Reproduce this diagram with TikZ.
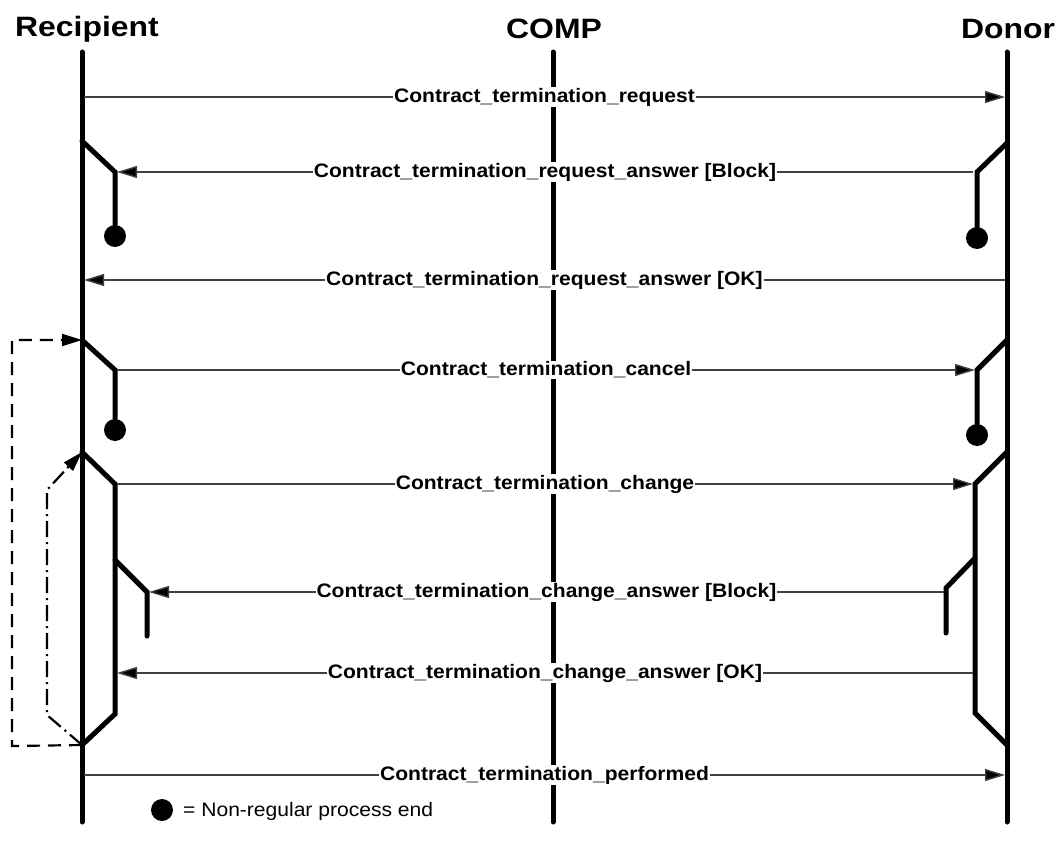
\documentclass[tikz,border=0pt]{standalone}
\usepackage{fontspec}
\setmainfont{Liberation Sans}
\newfontfamily\headfont[FakeStretch=1.14]{Liberation Sans}
\newfontfamily\msgfont[FakeStretch=1.08]{Liberation Sans}
\newfontfamily\legendfont[FakeStretch=1.08]{Liberation Sans}
\usetikzlibrary{arrows.meta}

\tikzset{
  head/.style={font=\headfont\bfseries\fontsize{28}{30}\selectfont, inner sep=0pt},
  life/.style={line width=5pt, line cap=round},
  branch/.style={line width=5pt, line cap=round},
  msg/.style={line width=1.4pt, draw=black!75, -{Triangle[length=20pt,width=12pt,fill=black]}},
  lbl/.style={fill=white, inner sep=1pt, text=black, font=\msgfont\bfseries\fontsize{19.5}{22}\selectfont},
  stopdot/.style={circle, fill=black, minimum size=22pt, inner sep=0pt},
  loopback/.style={line width=2.2pt, dash pattern=on 13pt off 8pt, -{Triangle[length=20pt,width=12pt]}},
  redo/.style={line width=2.2pt, dash pattern=on 16pt off 5pt on 2pt off 5pt, -{Triangle[length=20pt,width=12pt]}}
}

\begin{document}
\begin{tikzpicture}[x=1pt,y=-1pt]
        \useasboundingbox (0,0) rectangle (1059,850);

        \node[head] (recipient) at(87,29){Recipient};
        \node[head] (comp) at(554,29){COMP};
        \node[head] (donor) at(1008,29){Donor};

        \coordinate (recipient-top) at(82,52);
        \coordinate (recipient-bottom) at(82,822);
        \coordinate (comp-top) at(553,52);
        \coordinate (comp-bottom) at(553,822);
        \coordinate (donor-top) at(1007,52);
        \coordinate (donor-bottom) at(1007,822);

        \draw[life] (recipient-top) -- (recipient-bottom);
        \draw[life] (comp-top) -- (comp-bottom);
        \draw[life] (donor-top) -- (donor-bottom);

        % request blocked
        \coordinate (rb-fork) at(82,141);
        \coordinate (rb-knee) at(115,172);
        \node[stopdot] (rb-stop) at(115,236){};
        \coordinate (db-fork) at(1007,143);
        \coordinate (db-knee) at(977,172);
        \node[stopdot] (db-stop) at(977,238){};
        \draw[branch] (rb-fork) -- (rb-knee) -- (rb-stop);
        \draw[branch] (db-fork) -- (db-knee) -- (db-stop);

        % cancel
        \coordinate (rc-fork) at(82,340);
        \coordinate (rc-knee) at(115,370);
        \node[stopdot] (rc-stop) at(115,430){};
        \coordinate (dc-fork) at(1007,340);
        \coordinate (dc-knee) at(977,370);
        \node[stopdot] (dc-stop) at(977,435){};
        \draw[branch] (rc-fork) -- (rc-knee) -- (rc-stop);
        \draw[branch] (dc-fork) -- (dc-knee) -- (dc-stop);

        % change
        \coordinate (rch-fork) at(82,452);
        \coordinate (rch-knee) at(115,484);
        \coordinate (rch-low) at(115,714);
        \coordinate (rch-join) at(82,745);
        \coordinate (dch-fork) at(1007,452);
        \coordinate (dch-knee) at(975,484);
        \coordinate (dch-low) at(975,713);
        \coordinate (dch-join) at(1007,745);
        \draw[branch] (rch-fork) -- (rch-knee) -- (rch-low) -- (rch-join);
        \draw[branch] (dch-fork) -- (dch-knee) -- (dch-low) -- (dch-join);

        % change blocked
        \coordinate (rcb-fork) at(115,560);
        \coordinate (rcb-knee) at(147,592);
        \coordinate (rcb-end) at(147,636);
        \coordinate (dcb-fork) at(975,558);
        \coordinate (dcb-knee) at(946,588);
        \coordinate (dcb-end) at(946,633);
        \draw[branch] (rcb-fork) -- (rcb-knee) -- (rcb-end);
        \draw[branch] (dcb-fork) -- (dcb-knee) -- (dcb-end);

        % loops
        \coordinate (loop-low) at(12,746);
        \coordinate (loop-high) at(12,340);
        \draw[loopback] (rch-join) -- (loop-low) -- (loop-high) -- (rc-fork);
        \coordinate (redo-low) at(47,715);
        \coordinate (redo-high) at(47,490);
        \draw[redo] (rch-join) -- (redo-low) -- (redo-high) -- (rch-fork);

        % messages
        \coordinate (m1-from) at(84,97);
        \coordinate (m1-to) at(1005,97);
        \coordinate (m2-from) at(973,172);
        \coordinate (m2-to) at(117,172);
        \coordinate (m3-from) at(1005,280);
        \coordinate (m3-to) at(84,280);
        \coordinate (m4-from) at(117,370);
        \coordinate (m4-to) at(975,370);
        \coordinate (m5-from) at(117,484);
        \coordinate (m5-to) at(973,484);
        \coordinate (m6-from) at(944,592);
        \coordinate (m6-to) at(149,592);
        \coordinate (m7-from) at(973,673);
        \coordinate (m7-to) at(117,673);
        \coordinate (m8-from) at(84,775);
        \coordinate (m8-to) at(1005,775);

        \draw[msg] (m1-from) -- node[lbl]{Contract\_termination\_request} (m1-to);
        \draw[msg] (m2-from) -- node[lbl]{Contract\_termination\_request\_answer [Block]} (m2-to);
        \draw[msg] (m3-from) -- node[lbl]{Contract\_termination\_request\_answer [OK]} (m3-to);
        \draw[msg] (m4-from) -- node[lbl]{Contract\_termination\_cancel} (m4-to);
        \draw[msg] (m5-from) -- node[lbl]{Contract\_termination\_change} (m5-to);
        \draw[msg] (m6-from) -- node[lbl]{Contract\_termination\_change\_answer [Block]} (m6-to);
        \draw[msg] (m7-from) -- node[lbl]{Contract\_termination\_change\_answer [OK]} (m7-to);
        \draw[msg] (m8-from) -- node[lbl]{Contract\_termination\_performed} (m8-to);

        % legend
        \node[stopdot] (legend-dot) at(162,810){};
        \node[anchor=west, inner sep=0pt, font=\legendfont\fontsize{19.5}{22}\selectfont] (legend) at(183,811){= Non-regular process end};
\end{tikzpicture}
\end{document}
